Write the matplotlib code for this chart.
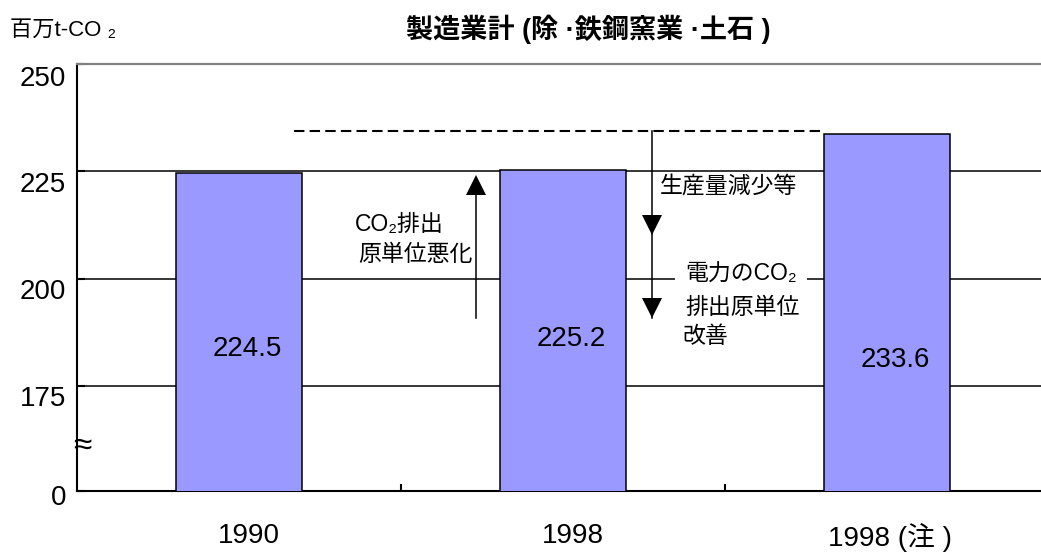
import numpy as np
import matplotlib
matplotlib.use("Agg")
import matplotlib.pyplot as plt
from matplotlib.transforms import ScaledTranslation, blended_transform_factory

plt.rcParams['font.family'] = ['Liberation Sans', 'DejaVu Sans', 'Noto Sans CJK JP']

######## data
categories = ['1990', '1998', '1998 (注 )']
values = [224.5, 225.2, 233.6]
grid_levels = [175, 200, 225]
y_ticks = [175, 200, 225, 250]
y_tick_labels = ['0', '175', '200', '225', '250']
base = 150.5          # the broken axis puts 0 here
dashed_level = 234.4  # level the 1998 value would be at

fig = plt.figure(figsize=(10.41, 5.54), dpi=100)
ax = fig.add_axes([0.074, 0.1137, 0.9337, 0.7708])

x = np.arange(len(categories))
ax.bar(x, values, width=0.39, bottom=0, color='#9999FF', edgecolor='black',
       linewidth=1.1, zorder=3)

for lev in grid_levels:
    ax.axhline(lev, color='black', lw=1.1, zorder=1)

ax.set_xlim(-0.5, 2.5)
ax.set_ylim(base, 250)

# spines
ax.spines['top'].set_color('#808080')
ax.spines['top'].set_linewidth(1.6)
ax.spines['left'].set_linewidth(1.5)
ax.spines['bottom'].set_linewidth(1.5)
ax.spines['right'].set_visible(False)

# y axis (broken at the bottom)
ax.set_yticks([base] + y_ticks, y_tick_labels)
ax.tick_params(axis='y', direction='in', length=6, width=1.5, labelsize=20, pad=8)
for lab, dy in zip(ax.get_yticklabels(), [-4, -10, -10, -11, -12]):
    lab.set_transform(lab.get_transform() + ScaledTranslation(0, dy / 100, fig.dpi_scale_trans))

# x axis
ax.set_xticks(x, categories)
ax.tick_params(axis='x', which='major', length=0, labelsize=20, pad=23)
ax.set_xticks([0.5, 1.5], minor=True)
ax.tick_params(axis='x', which='minor', direction='in', length=5, width=1.5)
for lab, dx in zip(ax.get_xticklabels(), [10, 10, 3]):
    lab.set_transform(lab.get_transform() + ScaledTranslation(dx / 100, 0, fig.dpi_scale_trans))

# value labels inside the bars
for xi, v, ly in zip(x, values, [183.6, 185.9, 181.0]):
    ax.text(xi + 0.025, ly, f'{v:.1f}', ha='center', va='center', fontsize=20, zorder=4)

# dashed reference level
ax.plot([0.17, 1.803], [dashed_level, dashed_level], color='black', lw=1.5,
        dashes=(5, 2.5), zorder=4)

# up arrow (CO2 intensity worse)
ax.plot([0.731, 0.731], [190.8, 222], color='black', lw=1.1, zorder=4)
ax.plot(0.731, 221.7, marker='^', ms=14, mew=0, color='black', zorder=4)

# down arrow (production decrease, power intensity improvement)
ax.plot([1.275, 1.275], [dashed_level, 190.8], color='black', lw=1.1, zorder=4)
ax.plot([1.275, 1.275], [212.4, 193.05], ls='none', marker='v', ms=14, mew=0,
        color='black', zorder=4)

ax.text(0.358, 212.5, 'CO₂排出', ha='left', va='center', fontsize=16.5, zorder=5)
ax.text(0.367, 205.5, '原単位悪化', ha='left', va='center', fontsize=16.5, zorder=5)
ax.text(1.299, 221.6, '生産量減少等', ha='left', va='center', fontsize=16.5, zorder=5)
ax.text(1.377, 201.1, '電力のCO₂', ha='left', va='center', fontsize=16.5, zorder=5,
        bbox=dict(boxstyle='square,pad=0.45', fc='white', ec='none'))
ax.text(1.377, 193.2, '排出原単位', ha='left', va='center', fontsize=16.5, zorder=5)
ax.text(1.367, 186.6, '改善', ha='left', va='center', fontsize=16.5, zorder=5)

# axis break mark
trans = blended_transform_factory(ax.transAxes, ax.transData)
ax.text(0.005, 160.8, '≈', transform=trans, ha='center', va='center',
        fontsize=24, clip_on=False, zorder=6)

fig.text(10 / 1041, 1 - 30 / 554, '百万t-CO ₂', ha='left', va='center', fontsize=16)
fig.text(588 / 1041, 1 - 29 / 554, '製造業計 (除 ·鉄鋼窯業 ·土石 )', ha='center',
         va='center', fontsize=19.5, fontweight='bold')

fig.savefig('out.png', dpi=100)
